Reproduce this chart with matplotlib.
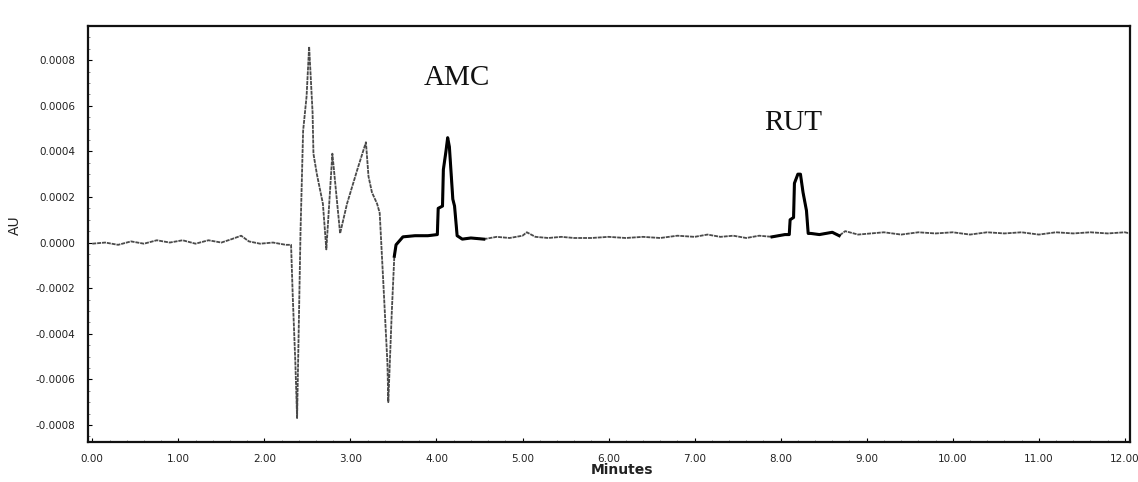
import matplotlib
matplotlib.use("Agg")
import matplotlib.pyplot as plt
import numpy as np
from matplotlib.ticker import FixedLocator, FormatStrFormatter, MultipleLocator

# ---- data (time in minutes, absorbance in 1e-4 AU) ----
time_min = [
    0.00, 0.15, 0.30, 0.45, 0.60, 0.75, 0.90, 1.05, 1.20, 1.35, 1.50, 1.62,
    1.73, 1.82, 1.95, 2.10, 2.25, 2.31,
    2.33, 2.36, 2.38, 2.42, 2.45, 2.49, 2.52, 2.56, 2.57, 2.61, 2.68, 2.72,
    2.79, 2.88, 2.96, 3.08, 3.18, 3.21, 3.25, 3.31, 3.34, 3.38, 3.43, 3.44,
    3.48, 3.51, 3.53, 3.61, 3.75, 3.90, 4.01,
    4.02, 4.07, 4.08, 4.11, 4.13, 4.15, 4.19, 4.21, 4.24, 4.30, 4.40, 4.55,
    4.70, 4.85, 5.00, 5.05, 5.15, 5.30, 5.45, 5.60, 5.80, 6.00, 6.20, 6.40,
    6.60, 6.80, 7.00, 7.15, 7.30, 7.45, 7.60, 7.75, 7.90, 8.05, 8.10,
    8.11, 8.15, 8.16, 8.20, 8.23, 8.26, 8.30, 8.32, 8.35, 8.45, 8.60, 8.68,
    8.75, 8.90, 9.05, 9.20, 9.40, 9.60, 9.80, 10.00, 10.20, 10.40, 10.60,
    10.80, 11.00, 11.20, 11.40, 11.60, 11.80, 12.00, 12.06,
]
absorbance_e4 = [
    -0.05, 0.00, -0.10, 0.05, -0.05, 0.10, 0.00, 0.10, -0.05, 0.10, 0.00, 0.15,
    0.30, 0.05, -0.05, 0.00, -0.10, -0.10,
    -2.40, -5.30, -7.70, 0.50, 4.90, 6.40, 8.60, 5.70, 3.90, 3.00, 1.70, -0.30,
    3.90, 0.40, 1.70, 3.20, 4.40, 2.90, 2.20, 1.70, 1.30, -1.60, -5.30, -7.00,
    -3.10, -0.60, -0.10, 0.25, 0.30, 0.30, 0.35,
    1.50, 1.60, 3.20, 4.00, 4.60, 4.20, 1.90, 1.60, 0.30, 0.15, 0.20, 0.15,
    0.25, 0.20, 0.30, 0.45, 0.25, 0.20, 0.25, 0.20, 0.20, 0.25, 0.20, 0.25,
    0.20, 0.30, 0.25, 0.35, 0.25, 0.30, 0.20, 0.30, 0.25, 0.35, 0.35,
    1.00, 1.10, 2.60, 3.00, 3.00, 2.20, 1.40, 0.40, 0.40, 0.35, 0.45, 0.30,
    0.50, 0.35, 0.40, 0.45, 0.35, 0.45, 0.40, 0.45, 0.35, 0.45, 0.40,
    0.45, 0.35, 0.45, 0.40, 0.45, 0.40, 0.45, 0.40,
]
bold_ranges = [(3.50, 4.62), (7.88, 8.72)]
x_ticks = [0, 1, 2, 3, 4, 5, 6, 7, 8, 9, 10, 11, 12]
y_ticks = [-0.0008, -0.0006, -0.0004, -0.0002, 0.0, 0.0002, 0.0004, 0.0006, 0.0008]
peak_names = ["AMC", "RUT"]

t = np.array(time_min)
au = np.array(absorbance_e4) * 1e-4

fig = plt.figure(figsize=(11.38, 4.82), dpi=100)
ax = fig.add_axes([88 / 1138, 1 - 442 / 482, (1130 - 88) / 1138, (442 - 26) / 482])

ax.plot(t, au, color="#4a4a4a", lw=1.3, linestyle=(0, (2.2, 0.5)))
for lo, hi in bold_ranges:
    m = (t >= lo) & (t <= hi)
    ax.plot(t[m], au[m], color="black", lw=2.2, solid_joinstyle="round")

ax.set_xlim(-0.05, 12.06)
ax.set_ylim(-0.000875, 0.00095)
ax.xaxis.set_major_locator(FixedLocator(x_ticks))
ax.yaxis.set_major_locator(FixedLocator(y_ticks))
ax.xaxis.set_major_formatter(FormatStrFormatter("%.2f"))
ax.yaxis.set_major_formatter(FormatStrFormatter("%.4f"))
ax.xaxis.set_minor_locator(MultipleLocator(0.2))
ax.yaxis.set_minor_locator(MultipleLocator(0.00005))
ax.tick_params(which="major", direction="in", length=3, width=0.8,
               labelsize=7.5, labelcolor="#222222", pad=9)
ax.tick_params(which="minor", direction="in", length=1.5, width=0.5, color="#555555")

for s in ax.spines.values():
    s.set_linewidth(1.6)
    s.set_color("#111111")

ax.set_ylabel("AU", fontsize=10, color="#222222")
ax.yaxis.set_label_coords(-0.063, 0.52)
ax.set_xlabel("Minutes", fontsize=10, color="#222222", fontweight="bold")
ax.xaxis.set_label_coords(0.512, -0.05)

ax.text(4.24, 0.000721, peak_names[0], fontsize=21, family="Liberation Serif",
        ha="center", va="center", color="#111111")
ax.text(8.14, 0.000524, peak_names[1], fontsize=21, family="Liberation Serif",
        ha="center", va="center", color="#111111")

fig.savefig("out.png", dpi=100)
